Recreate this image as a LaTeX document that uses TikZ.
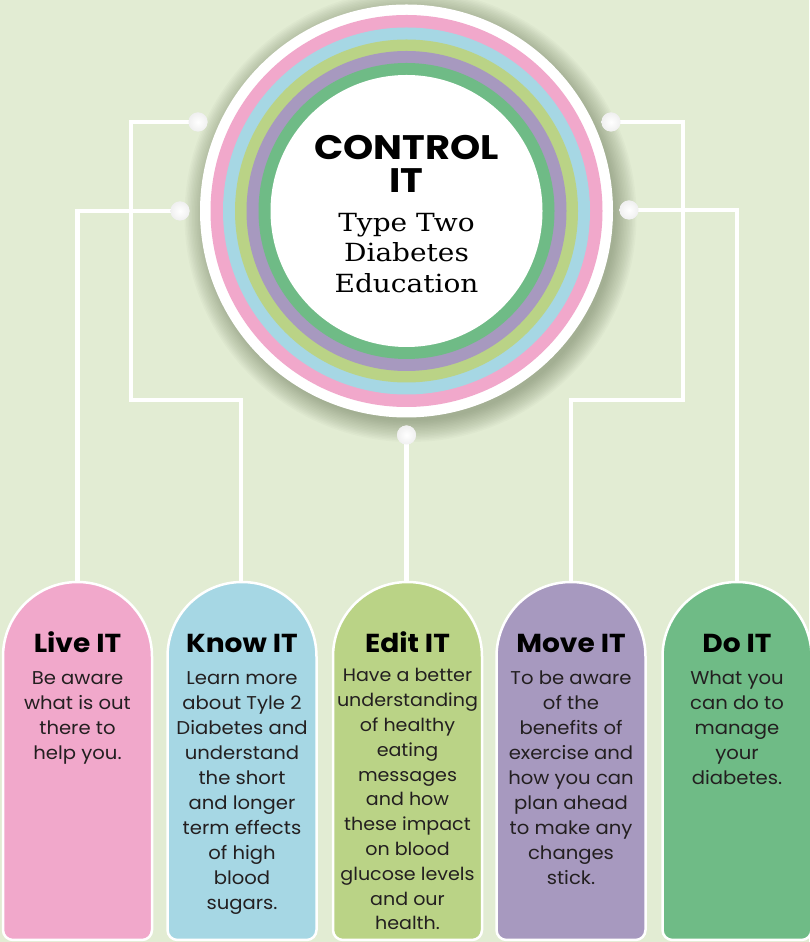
\documentclass[tikz,border=0pt]{standalone}
\usepackage{fontspec}
\setmainfont{Poppins}[FakeStretch=1.06]
\newfontfamily\headfont{Poppins}[FakeStretch=1.08]
\newfontfamily\hubfont{Poppins}[FakeStretch=1.13]
\newfontfamily\slabfont{DejaVu Serif}[FakeStretch=1.12]
\definecolor{bg}{HTML}{E2ECD3}
\definecolor{cpink}{HTML}{F1A8CB}
\definecolor{cblue}{HTML}{A6D7E4}
\definecolor{clgreen}{HTML}{BAD386}
\definecolor{cpurple}{HTML}{A799BF}
\definecolor{cgreen}{HTML}{6FBB86}
\definecolor{txt}{HTML}{231F20}
\definecolor{shadowc}{HTML}{4A5A3A}
\newcommand\cardbody[1]{\begin{tabular}[t]{@{}c@{}}#1\end{tabular}}
\tikzset{
  conn/.style={draw=white, line width=4.5pt},
  dotnode/.style={circle, minimum size=19pt, inner sep=0pt, shading=radial, inner color=white, outer color=black!6},
  cardhead/.style={anchor=base, inner sep=0pt, font=\headfont\bfseries\fontsize{26}{28}\selectfont, text=black},
  cardtxt/.style={anchor=base, inner sep=0pt, font=\fontsize{18.5}{25}\selectfont, text=txt},
}
\begin{document}
\begin{tikzpicture}[x=1pt,y=1pt]
\useasboundingbox (0,0) rectangle (809,942);
\fill[bg] (0,0) rectangle (809,942);

% soft shadow of the central circle
\coordinate (cc) at (406.5,731);
\coordinate (sc) at (410.5,726);
\foreach \r in {226,224.5,...,204}
  \fill[shadowc, opacity=0.03] (sc) circle (\r);

% central circle with rings
\fill[white] (cc) circle (206.5);
\fill[cpink] (cc) circle (196);
\fill[cblue] (cc) circle (183.5);
\fill[clgreen] (cc) circle (171.5);
\fill[cpurple] (cc) circle (160);
\fill[cgreen] (cc) circle (148);
\node[circle, fill=white, minimum size=272pt, inner sep=0pt] (hub) at (cc) {};

% card top coordinates
\coordinate (c1top) at (77.5,340);
\coordinate (c2top) at (241,340);
\coordinate (c3top) at (406.5,340);
\coordinate (c4top) at (571,340);
\coordinate (c5top) at (737,340);

% dots
\node[dotnode] (d1) at (198,820) {};
\node[dotnode] (d2) at (180,731) {};
\node[dotnode] (d3) at (611,820) {};
\node[dotnode] (d4) at (629,732) {};
\node[dotnode] (d5) at (406.5,507) {};

% connectors
\draw[conn] (d2.center) -| (c1top);
\draw[conn] (d1.center) -| (131,542) -| (c2top);
\draw[conn] (d5.center) -- (c3top);
\draw[conn] (d3.center) -| (683,542) -| (c4top);
\draw[conn] (d4.center) -| (c5top);

% redraw dots on top of lines
\foreach \p in {d1,d2,d3,d4,d5}
  \node[dotnode] at (\p) {};

% cards
\foreach \cx/\col in {77.5/cpink, 242/cblue, 407.5/clgreen, 571/cpurple, 737/cgreen}{
  \filldraw[fill=\col, draw=white, line width=2.5pt]
    ({\cx-74.5},285.5) -- ({\cx-74.5},12) arc[start angle=180, end angle=270, radius=10]
    -- ({\cx+64.5},2) arc[start angle=270, end angle=360, radius=10]
    -- ({\cx+74.5},285.5) arc[start angle=0, end angle=180, radius=74.5] -- cycle;
}

% circle text
\node[anchor=base, inner sep=0pt, font=\hubfont\bfseries\fontsize{34}{34}\selectfont] (t1) at (406.5,782) {CONTROL};
\node[anchor=base, inner sep=0pt, font=\hubfont\bfseries\fontsize{34}{34}\selectfont] (t2) at (406.5,749) {IT};
\node[anchor=base, inner sep=0pt, font=\slabfont\fontsize{25}{30}\selectfont] (t3) at (406.5,710) {Type Two};
\node[anchor=base, inner sep=0pt, font=\slabfont\fontsize{25}{30}\selectfont] (t4) at (406.5,680) {Diabetes};
\node[anchor=base, inner sep=0pt, font=\slabfont\fontsize{25}{30}\selectfont] (t5) at (406.5,649) {Education};

% card texts
\node[cardhead] (h1) at (77.5,289) {Live IT};
\node[cardtxt] (b1) at (77.5,257) {\cardbody{Be aware\\what is out\\there to\\help you.}};

\node[cardhead] (h2) at (242,289) {Know IT};
\node[cardtxt] (b2) at (242,257) {\cardbody{Learn more\\about Tyle 2\\Diabetes and\\understand\\the short\\and longer\\term effects\\of high\\blood\\sugars.}};

\node[cardhead] (h3) at (407.5,289) {Edit IT};
\node[cardtxt, font=\fontsize{18}{24.8}\selectfont] (b3) at (407.5,260) {\cardbody{Have a better\\understanding\\of healthy\\eating\\messages\\and how\\these impact\\on blood\\glucose levels\\and our\\health.}};

\node[cardhead] (h4) at (571,289) {Move IT};
\node[cardtxt] (b4) at (571,257) {\cardbody{To be aware\\of the\\benefits of\\exercise and\\how you can\\plan ahead\\to make any\\changes\\stick.}};

\node[cardhead] (h5) at (737,289) {Do IT};
\node[cardtxt] (b5) at (737,257) {\cardbody{What you\\can do to\\manage\\your\\diabetes.}};
\end{tikzpicture}
\end{document}
